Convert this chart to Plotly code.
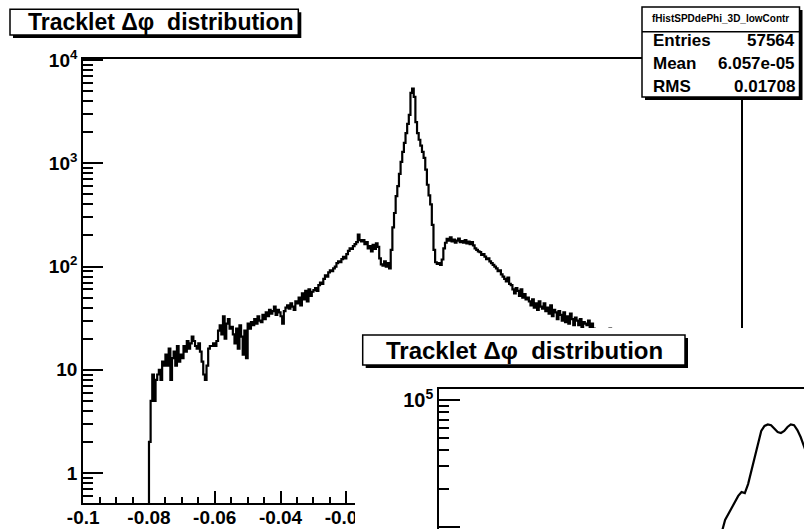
import numpy as np
import plotly.graph_objects as go

W, H = 804, 529

# ---------------- data ----------------
# main histogram: 400 bins from -0.1 to 0.1
bin_lo, bin_hi, n_bins = -0.1, 0.1, 400
counts = (
    [0] * 40 +
    [2, 5, 9, 5, 8, 9, 10, 8, 12, 11] +
    [14, 11, 16, 8, 13, 15, 11, 17, 12, 14] +
    [13, 17, 15, 19, 16, 18, 21, 19, 17, 16] +
    [18, 15, 12, 9, 8, 11, 16, 17, 17, 18] +
    [17, 19, 24, 27, 22, 33, 20, 28, 31, 25] +
    [26, 22, 18, 25, 16, 27, 21, 14, 24, 13] +
    [28, 25, 29, 27, 31, 28, 33, 30, 29, 34] +
    [31, 36, 33, 38, 35, 37, 41, 34, 38, 36] +
    [33, 28, 37, 40, 42, 39, 44, 41, 38, 46] +
    [44, 50, 42, 55, 48, 58, 46, 60, 52, 57] +
    [59, 62, 58, 66, 70, 68, 76, 82, 80, 88] +
    [92, 90, 96, 100, 108, 112, 110, 118, 124, 120] +
    [132, 142, 150, 148, 158, 165, 172, 204, 180, 175] +
    [180, 165, 172, 150, 158, 140, 162, 148, 168, 155] +
    [120, 105, 102, 112, 100, 108, 96, 145, 240, 330] +
    [480, 600, 790, 1030, 1290, 1580, 1960, 2410, 2950, 4800] +
    [5300, 4400, 2500, 1960, 1690, 1480, 1290, 1130, 870, 620] +
    [490, 400, 253, 145, 110, 106, 108, 104, 117, 150] +
    [170, 185, 178, 192, 175, 182, 170, 178, 186, 172] +
    [176, 170, 180, 168, 174, 165, 172, 160, 150, 145] +
    [140, 138, 130, 132, 125, 118, 120, 112, 108, 104] +
    [100, 96, 90, 92, 84, 80, 76, 72, 78, 68] +
    [66, 60, 55, 62, 58, 52, 60, 50, 54, 48] +
    [50, 46, 42, 48, 40, 44, 38, 46, 41, 39] +
    [44, 37, 40, 35, 42, 33, 38, 36, 31, 37] +
    [34, 30, 36, 29, 33, 28, 35, 31, 27, 32] +
    [30, 27, 31, 26, 29, 28, 27, 30, 26, 28] +
    [25, 23, 22, 24, 21, 23, 22, 20, 24, 21] +
    [25, 19, 21, 18, 22, 17, 20, 19, 16, 18] +
    [17, 15, 18, 14, 16, 13, 15, 17, 12, 14] +
    [13, 15, 11, 12, 14, 10, 12, 11, 13, 10] +
    [11, 9, 10, 12, 9, 8, 10, 9, 6, 3] +
    [0] * 40
)

# inset histogram (second canvas, partially visible)
inset_x = [-0.015, -0.014, -0.013, -0.012, -0.011, -0.010, -0.009, -0.008,
           -0.007, -0.006, -0.005, -0.004, -0.003, -0.002, -0.001, 0.000,
           0.001, 0.002, 0.003, 0.004, 0.005, 0.006, 0.007, 0.008, 0.009,
           0.010, 0.011, 0.012]
inset_y = [7850, 9080, 11300, 12600, 14100, 15700, 17500, 18800,
           18400, 21700, 28000, 36200, 45800, 56900, 62400, 64100,
           63200, 59700, 55800, 54900, 56900, 61200, 64100, 63200, 57900,
           51000, 43400, 36800]

x_tickvals = [-0.1, -0.08, -0.06, -0.04, -0.02, 0.0, 0.02, 0.04, 0.06, 0.08, 0.1]
x_ticktext = ["-0.1", "-0.08", "-0.06", "-0.04", "-0.02", "0", "0.02", "0.04", "0.06", "0.08", "0.1"]
y_tickvals = [1, 10, 100, 1000, 10000]
y_ticktext = ["1", "10", "10<sup>2</sup>", "10<sup>3</sup>", "10<sup>4</sup>"]
inset_y_tickvals = [10000, 100000]
inset_y_ticktext = ["10<sup>4</sup>", "10<sup>5</sup>"]

title_text = "Tracklet Δφ\u00a0 distribution"
stats_name = "fHistSPDdePhi_3D_lowContr"
stats_labels = ["Entries", "Mean", "RMS"]
stats_values = ["57564", "6.057e-05", "0.01708"]

# ---------------- figure ----------------
FONT = "Liberation Sans"
edges = np.linspace(bin_lo, bin_hi, n_bins + 1)
floor = 0.1  # display level for empty bins on the log axis
yplot = [c if c > 0 else floor for c in counts]
hx = list(edges)
hy = yplot + [yplot[-1]]

fig = go.Figure()
fig.add_trace(go.Scatter(x=hx, y=hy, mode="lines", line=dict(color="black", width=2.2, shape="hv"),
                         xaxis="x", yaxis="y", showlegend=False, hoverinfo="skip"))
# covering canvas (blank)
fig.add_trace(go.Scatter(x=[None], y=[None], mode="lines", xaxis="x2", yaxis="y2",
                         showlegend=False, hoverinfo="skip"))
fig.add_trace(go.Scatter(x=inset_x, y=inset_y, mode="lines", line=dict(color="black", width=2.2),
                         xaxis="x3", yaxis="y3", showlegend=False, hoverinfo="skip"))

def fx(p):
    return p / W

def fy(p):
    return 1 - p / H

minor_y = [v * 10 ** d for d in range(-1, 4) for v in range(2, 10) if 0.5 < v * 10 ** d < 10000]
minor_x = [round(-0.1 + 0.005 * k, 4) for k in range(41)]
minor_y3 = [v * 10 ** d for d in range(3, 5) for v in range(2, 10) if 9000 < v * 10 ** d < 120000]

tickfont = dict(family=FONT, size=19, color="black", weight="bold")

fig.update_layout(
    width=W, height=H, margin=dict(l=0, r=0, t=0, b=0, autoexpand=False),
    paper_bgcolor="white", plot_bgcolor="white",
    xaxis=dict(domain=[fx(83.2), fx(741)], range=[-0.1, 0.1], anchor="y", automargin=False,
               showline=True, linecolor="black", linewidth=2, mirror=True,
               showgrid=False, zeroline=False,
               tickmode="array", tickvals=x_tickvals, ticktext=x_ticktext,
               ticks="inside", ticklen=12, tickwidth=1.5, tickcolor="black",
               ticklabelstandoff=-4,
               minor=dict(tickvals=minor_x, ticks="inside", ticklen=6, tickwidth=1.5, tickcolor="black", showgrid=False),
               tickfont=tickfont),
    yaxis=dict(domain=[fy(503), fy(59)], type="log", range=[-0.29, 4.01], anchor="x", automargin=False,
               showline=True, linecolor="black", linewidth=2, mirror=True,
               showgrid=False, zeroline=False,
               tickmode="array", tickvals=y_tickvals, ticktext=y_ticktext,
               ticks="inside", ticklen=20, tickwidth=1.5, tickcolor="black",
               minor=dict(tickvals=minor_y, ticks="inside", ticklen=10, tickwidth=1.5, tickcolor="black", showgrid=False),
               tickfont=tickfont),
    xaxis2=dict(domain=[fx(355), 1], range=[0, 1], anchor="y2", visible=False, automargin=False,
                showgrid=False, zeroline=False),
    yaxis2=dict(domain=[0, fy(328)], range=[0, 1], anchor="x2", visible=False, automargin=False,
                showgrid=False, zeroline=False),
    xaxis3=dict(domain=[fx(439.3), 1], range=[-0.1, -0.1 + (804 - 439.3) / 3285], anchor="y3",
                side="top", showline=True, linecolor="black", linewidth=2, mirror=False, automargin=False,
                showgrid=False, zeroline=False, showticklabels=False, ticks=""),
    yaxis3=dict(domain=[0, fy(389.3)], type="log", range=[3.982, 5.084], anchor="x3", automargin=False,
                showline=True, linecolor="black", linewidth=2, mirror=False,
                showgrid=False, zeroline=False,
                tickmode="array", tickvals=inset_y_tickvals, ticktext=inset_y_ticktext,
                ticks="inside", ticklen=21, tickwidth=1.5, tickcolor="black",
                minor=dict(tickvals=minor_y3, ticks="inside", ticklen=10, tickwidth=1.5, tickcolor="black", showgrid=False),
                tickfont=dict(family=FONT, size=20, color="black", weight="bold")),
)

shapes = []
annotations = []

def box(x0, y0, x1, y1, shadow=3):
    shapes.append(dict(type="rect", xref="paper", yref="paper", layer="above",
                       x0=fx(x0 + shadow), x1=fx(x1 + shadow), y0=fy(y0 + shadow), y1=fy(y1 + shadow),
                       fillcolor="black", line=dict(width=0)))
    shapes.append(dict(type="rect", xref="paper", yref="paper", layer="above",
                       x0=fx(x0), x1=fx(x1), y0=fy(y0), y1=fy(y1),
                       fillcolor="white", line=dict(color="black", width=1.5)))

def text(x, y, s, size, xanchor="center"):
    annotations.append(dict(xref="paper", yref="paper", x=fx(x), y=fy(y), text=s, showarrow=False,
                            xanchor=xanchor, yanchor="middle",
                            font=dict(family=FONT, size=size, color="black", weight="bold")))

# main title
box(10, 9.3, 298.3, 35)
text(161, 22.5, title_text, 23)

# stats box
box(642, 7, 799.5, 97)
shapes.append(dict(type="line", xref="paper", yref="paper", layer="above",
                   x0=fx(642), x1=fx(799.5), y0=fy(31.7), y1=fy(31.7), line=dict(color="black", width=1.5)))
text(720.7, 18.5, stats_name, 10)
for i, (lab, val) in enumerate(zip(stats_labels, stats_values)):
    yy = 41 + 22.5 * i
    text(650.5, yy, lab, 17, xanchor="left")
    text(797, yy, val, 17, xanchor="right")

# inset title
box(362.7, 335, 685, 365)
text(524, 350.5, title_text, 24)

fig.update_layout(shapes=shapes, annotations=annotations)
fig.write_html("out.html")
